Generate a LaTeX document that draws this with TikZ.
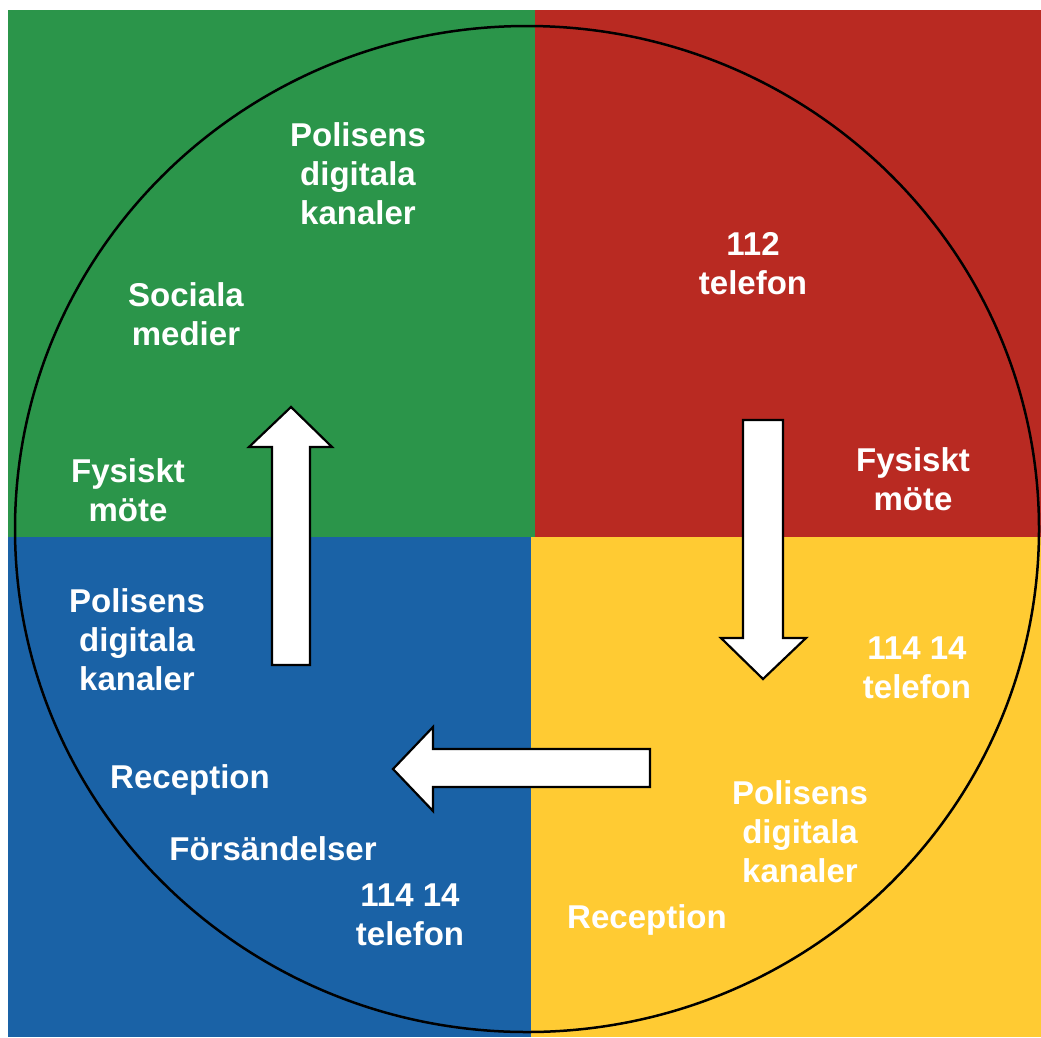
\documentclass[tikz,border=0pt]{standalone}
\usepackage{fontspec}
\setmainfont{Liberation Sans}
\definecolor{qgreen}{RGB}{43,149,74}
\definecolor{qred}{RGB}{185,42,34}
\definecolor{qblue}{RGB}{26,98,166}
\definecolor{qyellow}{RGB}{255,203,51}
\begin{document}
\begin{tikzpicture}[x=1pt,y=-1pt,
  lbl/.style={text=white,font=\bfseries\fontsize{33}{39}\selectfont,align=center,inner sep=0pt},
  blockarrow/.style={fill=white,draw=black,line width=2.2pt,line join=miter}]
\useasboundingbox (0,0) rectangle (1041,1037);
% quadrants
\fill[qgreen] (8,10) rectangle (535,537);
\fill[qred] (535,10) rectangle (1041,537);
\fill[qblue] (8,537) rectangle (531,1037);
\fill[qyellow] (531,537) rectangle (1041,1037);
% circle
\draw[line width=2.5pt] (527,529) ellipse [x radius=512, y radius=503];
% block arrows
\draw[blockarrow] (272,665) -- (272,447) -- (249,447) -- (291,407) -- (332,447) -- (310,447) -- (310,665) -- cycle;
\draw[blockarrow] (743,420) -- (783,420) -- (783,638) -- (806,638) -- (763,679) -- (721,638) -- (743,638) -- cycle;
\draw[blockarrow] (650,749) -- (650,787) -- (433,787) -- (433,811) -- (393,769) -- (433,727) -- (433,749) -- cycle;
% green labels
\node[lbl] (g1) at (358,174) {Polisens\\digitala\\kanaler};
\node[lbl] (g2) at (186,314) {Sociala\\medier};
\node[lbl] (g3) at (128,490) {Fysiskt\\möte};
% red labels
\node[lbl] (r1) at (753,264) {112\\telefon};
\node[lbl] (r2) at (913,479) {Fysiskt\\möte};
% yellow labels
\node[lbl] (y1) at (917,668) {114 14\\telefon};
\node[lbl] (y2) at (800,832) {Polisens\\digitala\\kanaler};
\node[lbl] (y3) at (647,920) {Reception};
% blue labels
\node[lbl] (b1) at (137,640) {Polisens\\digitala\\kanaler};
\node[lbl] (b2) at (190,780) {Reception};
\node[lbl] (b3) at (273,849) {Försändelser};
\node[lbl] (b4) at (410,915) {114 14\\telefon};
\end{tikzpicture}
\end{document}
